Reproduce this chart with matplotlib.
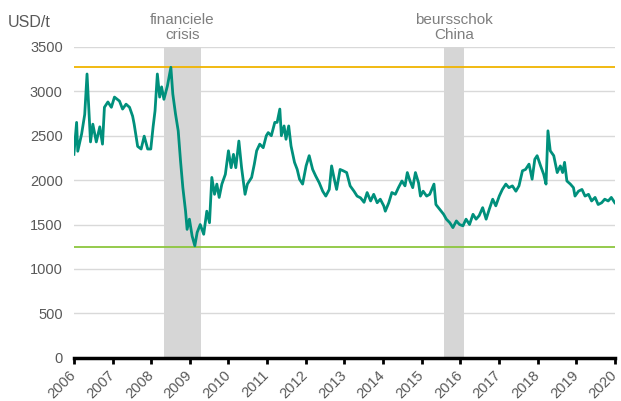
import matplotlib.pyplot as plt

# aluminium price (USD/t), x in decimal years
years = [
    2006.00, 2006.07, 2006.10, 2006.20, 2006.28, 2006.34, 2006.39, 2006.43, 2006.49, 2006.58,
    2006.67, 2006.74, 2006.79, 2006.88, 2006.97, 2007.05, 2007.18, 2007.26, 2007.35, 2007.44,
    2007.52, 2007.56, 2007.65, 2007.74, 2007.82, 2007.91, 2007.99, 2008.05, 2008.10, 2008.16,
    2008.22, 2008.27, 2008.33, 2008.42, 2008.51, 2008.56, 2008.63, 2008.70, 2008.76, 2008.82,
    2008.89, 2008.93, 2008.99, 2009.06, 2009.13, 2009.19, 2009.27, 2009.36, 2009.44, 2009.51,
    2009.57, 2009.64, 2009.70, 2009.76, 2009.83, 2009.92, 2010.00, 2010.07, 2010.13, 2010.19,
    2010.27, 2010.34, 2010.43, 2010.49, 2010.60, 2010.67, 2010.73, 2010.81, 2010.90, 2010.98,
    2011.03, 2011.11, 2011.20, 2011.26, 2011.33, 2011.37, 2011.44, 2011.49, 2011.56, 2011.62,
    2011.71, 2011.78, 2011.84, 2011.92, 2012.01, 2012.09, 2012.18, 2012.26, 2012.35, 2012.44,
    2012.52, 2012.61, 2012.67, 2012.74, 2012.80, 2012.89, 2012.97, 2013.06, 2013.15, 2013.25,
    2013.33, 2013.42, 2013.51, 2013.59, 2013.68, 2013.76, 2013.85, 2013.93, 2014.02, 2014.06,
    2014.15, 2014.23, 2014.32, 2014.40, 2014.49, 2014.57, 2014.63, 2014.70, 2014.77, 2014.84,
    2014.92, 2014.97, 2015.04, 2015.13, 2015.21, 2015.32, 2015.37, 2015.47, 2015.57, 2015.64,
    2015.73, 2015.81, 2015.90, 2015.98, 2016.07, 2016.15, 2016.24, 2016.33, 2016.41, 2016.49,
    2016.58, 2016.67, 2016.75, 2016.84, 2016.92, 2017.01, 2017.09, 2017.18, 2017.26, 2017.35,
    2017.44, 2017.52, 2017.61, 2017.69, 2017.78, 2017.86, 2017.93, 2017.99, 2018.08, 2018.16,
    2018.22, 2018.27, 2018.33, 2018.42, 2018.51, 2018.59, 2018.65, 2018.70, 2018.76, 2018.85,
    2018.93, 2018.97, 2019.06, 2019.15, 2019.23, 2019.32, 2019.40, 2019.49, 2019.57, 2019.66,
    2019.74, 2019.83, 2019.91, 2020.00,
]
prices = [
    2290, 2650, 2325, 2520, 2740, 3195, 2780, 2430, 2630, 2430,
    2600, 2405, 2820, 2880, 2820, 2935, 2890, 2800, 2855, 2820,
    2720, 2630, 2380, 2350, 2495, 2350, 2350, 2600, 2780, 3195,
    2935, 3050, 2910, 3060, 3270, 2970, 2745, 2555, 2215, 1915,
    1650, 1445, 1560, 1370, 1260, 1410, 1500, 1390, 1650, 1520,
    2030, 1840, 1955, 1805, 1955, 2065, 2330, 2140, 2290, 2140,
    2440, 2140, 1840, 1955, 2030, 2180, 2330, 2405, 2365, 2500,
    2535, 2500, 2650, 2650, 2800, 2500, 2610, 2460, 2610, 2385,
    2200, 2120, 2010, 1955, 2160, 2275, 2120, 2045, 1970, 1875,
    1820, 1895, 2160, 2010, 1895, 2120, 2105, 2085, 1935, 1875,
    1820, 1800, 1750, 1860, 1765, 1840, 1745, 1785, 1710, 1650,
    1745, 1860, 1840, 1915, 1990, 1935, 2085, 1990, 1915, 2085,
    1970, 1820, 1875, 1820, 1840, 1955, 1725, 1670, 1615, 1560,
    1520, 1465, 1540, 1500, 1485, 1560, 1500, 1615, 1560, 1600,
    1690, 1560, 1670, 1785, 1710, 1820, 1895, 1955, 1915, 1935,
    1875, 1935, 2105, 2120, 2180, 2010, 2235, 2275, 2160, 2065,
    1955, 2555, 2330, 2275, 2085, 2160, 2085, 2200, 1990, 1955,
    1915, 1820, 1875, 1895, 1820, 1840, 1765, 1805, 1725, 1745,
    1785, 1765, 1805, 1745,
]

upper_level = 3275
lower_level = 1250

crisis_spans = [(2008.33, 2009.29), (2015.59, 2016.09)]
crisis_labels = ["financiele\ncrisis", "beursschok\nChina"]

year_ticks = list(range(2006, 2021))
value_ticks = [0, 500, 1000, 1500, 2000, 2500, 3000, 3500]

plt.rcParams['font.family'] = ['Liberation Sans', 'DejaVu Sans']

fig = plt.figure(figsize=(6.21, 4.01), dpi=100)
ax = fig.add_axes([0.119, 0.108, 0.871, 0.775])

for y in value_ticks[1:]:
    ax.axhline(y, color='#d9d9d9', lw=1, zorder=0)

for (x0, x1), label in zip(crisis_spans, crisis_labels):
    ax.axvspan(x0, x1, color='#d6d6d6', lw=0, zorder=1)
    ax.text((x0 + x1) / 2, 3560, label, ha='center', va='bottom',
            fontsize=11, color='#7f7f7f', linespacing=1.05)

ax.axhline(upper_level, color='#f0b400', lw=1.3, zorder=2)
ax.axhline(lower_level, color='#8cc63e', lw=1.3, zorder=2)

ax.plot(years, prices, color='#00907c', lw=2, zorder=3)

ax.set_xlim(2006, 2020)
ax.set_ylim(0, 3500)
ax.set_xticks(year_ticks)
ax.set_xticklabels([str(y) for y in year_ticks], rotation=45, ha='right',
                   va='center', rotation_mode='anchor')
ax.set_yticks(value_ticks)

for side in ['top', 'right', 'left']:
    ax.spines[side].set_visible(False)
ax.spines['bottom'].set_linewidth(2.5)
ax.spines['bottom'].set_zorder(4)
ax.tick_params(axis='x', direction='out', length=4, width=2, colors='black',
               labelcolor='#595959', labelsize=10.5, pad=7)
ax.tick_params(axis='y', length=0, labelcolor='#595959', labelsize=10.5, pad=8)

fig.text(0.013, 0.945, "USD/t", fontsize=11.5, color='#595959', ha='left', va='center')

fig.savefig('out.png', dpi=100)
